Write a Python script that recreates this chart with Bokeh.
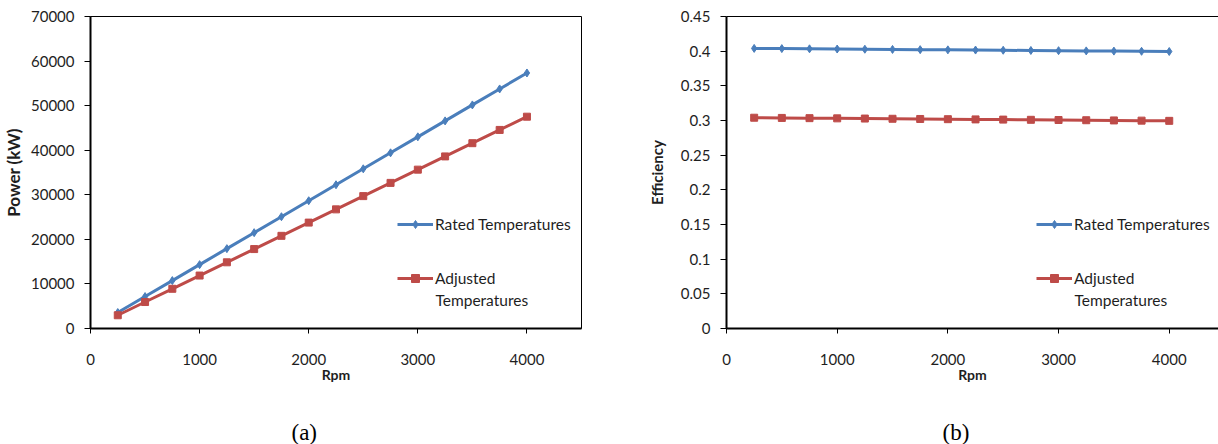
from bokeh.plotting import figure
from bokeh.layouts import row
from bokeh.models import Range1d, FixedTicker, Legend, LegendItem, Label, LinearAxis, Title
from bokeh.embed import file_html
from bokeh.resources import INLINE

rpm = [250, 500, 750, 1000, 1250, 1500, 1750, 2000, 2250, 2500, 2750, 3000, 3250, 3500, 3750, 4000]
power_rated = [3580, 7165, 10750, 14330, 17915, 21500, 25080, 28665, 32250, 35830, 39415, 43000, 46580, 50165, 53745, 57330]
power_adjusted = [2970, 5940, 8910, 11880, 14850, 17820, 20790, 23760, 26730, 29700, 32670, 35640, 38610, 41580, 44550, 47520]
eff_rated = [0.4040, 0.4037, 0.4034, 0.4031, 0.4028, 0.4025, 0.4022, 0.4019, 0.4016, 0.4013, 0.4010, 0.4007, 0.4004, 0.4001, 0.3998, 0.3995]
eff_adjusted = [0.3040, 0.3037, 0.3034, 0.3031, 0.3028, 0.3025, 0.3022, 0.3019, 0.3016, 0.3013, 0.3010, 0.3007, 0.3004, 0.3001, 0.2998, 0.2995]

x_ticks = [0, 1000, 2000, 3000, 4000]
power_ticks = [0, 10000, 20000, 30000, 40000, 50000, 60000, 70000]
power_labels = ["0", "10000", "20000", "30000", "40000", "50000", "60000", "70000"]
eff_ticks = [0, 0.05, 0.1, 0.15, 0.2, 0.25, 0.3, 0.35, 0.4, 0.45]
eff_labels = ["0", "0.05", "0.1", "0.15", "0.2", "0.25", "0.3", "0.35", "0.4", "0.45"]

label_rated = "Rated Temperatures"
label_adjusted_1 = "Adjusted"
label_adjusted_2 = "Temperatures"
caption_a = "(a)"
caption_b = "(b)"

BLUE = "#4A7EBB"
RED = "#BE4B48"
TXT = "#1e1e1e"
FONT = "Lato"


def make_fig(width, min_left, min_right, x_end, y_end, y_ticks, y_labels, ytitle, ytitle_size,
             y1, y2, title_standoff, leg_x, caption, cap_offset, outline=True):
    p = figure(width=width, height=444,
               x_range=Range1d(0, x_end), y_range=Range1d(0, y_end),
               output_backend="svg", toolbar_location=None,
               min_border_left=min_left, min_border_right=min_right,
               min_border_top=16, min_border_bottom=116,
               background_fill_color="white", border_fill_color="white")
    p.grid.visible = False
    p.outline_line_color = "black" if outline else None
    p.outline_line_width = 1

    for ax, ticks, labels in ((p.xaxis[0], x_ticks, [str(t) for t in x_ticks]),
                              (p.yaxis[0], y_ticks, y_labels)):
        ax.ticker = FixedTicker(ticks=ticks)
        ax.major_label_overrides = {t: l for t, l in zip(ticks, labels)}
        ax.axis_line_color = "black"
        ax.axis_line_width = 2
        ax.major_tick_line_color = "black"
        ax.major_tick_line_width = 1
        ax.major_tick_in = 0
        ax.minor_tick_line_color = None
        ax.major_label_text_font = FONT
        ax.major_label_text_font_size = "15px"
        ax.major_label_text_color = TXT
        ax.axis_label_text_font = FONT
        ax.axis_label_text_font_style = "bold"
        ax.axis_label_text_color = TXT

    p.xaxis.major_tick_out = 5
    p.xaxis.major_label_standoff = 20
    p.xaxis.axis_label = "Rpm"
    p.xaxis.axis_label_text_font_size = "14px"
    p.xaxis.axis_label_standoff = -2

    p.yaxis.major_tick_out = 6
    p.yaxis.major_label_standoff = 10
    p.yaxis.axis_label = ytitle
    p.yaxis.axis_label_text_font_size = ytitle_size
    p.yaxis.axis_label_standoff = title_standoff

    if not outline:
        top = LinearAxis(ticker=FixedTicker(ticks=[]), axis_line_color="black",
                         axis_line_width=1, major_label_text_font_size="0px",
                         major_tick_out=0, major_tick_in=0, minor_tick_out=0, minor_tick_in=0)
        p.add_layout(top, "above")

    r1l = p.line(rpm, y1, line_color=BLUE, line_width=3)
    r1m = p.scatter(rpm, y1, marker="diamond", size=8, fill_color=BLUE, line_color=BLUE)
    r2l = p.line(rpm, y2, line_color=RED, line_width=3)
    r2m = p.scatter(rpm, y2, marker="square", size=7, fill_color=RED, line_color=RED)

    legend = Legend(items=[LegendItem(label=label_rated, renderers=[r1l, r1m]),
                           LegendItem(label=label_adjusted_1, renderers=[r2l, r2m])],
                    location=(leg_x, 40), orientation="vertical",
                    padding=0, margin=0, spacing=34,
                    glyph_width=36, glyph_height=20, label_height=20,
                    label_standoff=2,
                    label_text_font=FONT, label_text_font_size="15.5px",
                    label_text_color=TXT,
                    border_line_color=None, background_fill_alpha=0)
    p.add_layout(legend, "center")

    p.add_layout(Label(x=leg_x + 38, y=29, x_units="screen", y_units="screen",
                       text=label_adjusted_2, text_align="left", text_baseline="middle",
                       text_font=FONT, text_font_size="15.5px", text_color=TXT))

    p.add_layout(Title(text="\n" + caption, align="left", offset=cap_offset,
                       text_font="Liberation Serif", text_font_size="23px",
                       text_line_height=1.26,
                       text_font_style="normal", text_color="black", standoff=0), "below")
    return p


p1 = make_fig(628, 88, 47, 4500, 70000, power_ticks, power_labels, "Power (kW)", "17px",
              power_rated, power_adjusted, 4, 307, caption_a, 201)
p2 = make_fig(590, 98, 0, 4445, 0.45, eff_ticks, eff_labels, "Efficiency", "15px",
              eff_rated, eff_adjusted, 12, 310, caption_b, 216, outline=False)

layout = row(p1, p2)
open("out.html", "w").write(file_html(layout, INLINE))
